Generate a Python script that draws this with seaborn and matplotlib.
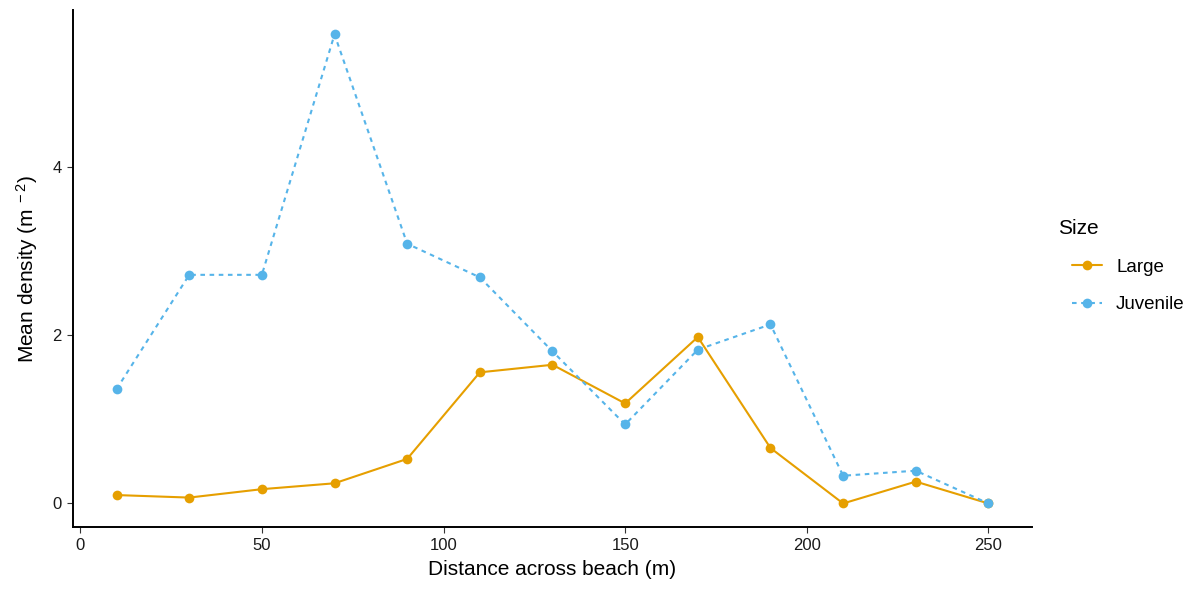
import matplotlib
matplotlib.use("Agg")
import matplotlib.pyplot as plt
from matplotlib.lines import Line2D
import seaborn as sns
import pandas as pd

distance = [10, 30, 50, 70, 90, 110, 130, 150, 170, 190, 210, 230, 250]
large = [0.10, 0.07, 0.17, 0.24, 0.53, 1.56, 1.65, 1.19, 1.98, 0.66, 0.0, 0.26, 0.0]
juvenile = [1.36, 2.72, 2.72, 5.58, 3.09, 2.69, 1.81, 0.94, 1.83, 2.13, 0.33, 0.39, 0.0]
sizes = ["Large", "Juvenile"]
colors = ["#E69F00", "#56B4E9"]
x_ticks = [0, 50, 100, 150, 200, 250]
y_ticks = [0, 2, 4]

df = pd.concat([
    pd.DataFrame({"Distance": distance, "Density": large, "Size": "Large"}),
    pd.DataFrame({"Distance": distance, "Density": juvenile, "Size": "Juvenile"}),
])

sns.set_theme(style="ticks")
plt.rcParams["font.family"] = ["Liberation Sans", "DejaVu Sans"]
plt.rcParams["mathtext.fontset"] = "custom"
plt.rcParams["mathtext.rm"] = "Liberation Sans"
plt.rcParams["mathtext.it"] = "Liberation Sans"
plt.rcParams["text.color"] = "black"
plt.rcParams["axes.labelcolor"] = "black"

fig = plt.figure(figsize=(11.92, 5.92), dpi=100)
ax = fig.add_axes([0.0612, 0.1098, 0.8046, 0.8732])

palette = dict(zip(sizes, colors))
dashes = {"Large": "", "Juvenile": (2.2, 2.2)}
sns.lineplot(data=df, x="Distance", y="Density", hue="Size", style="Size",
             hue_order=sizes, style_order=sizes, palette=palette, dashes=dashes,
             markers={"Large": "o", "Juvenile": "o"}, markersize=7,
             markeredgewidth=0, linewidth=1.5, ax=ax, legend=False)

ax.set_xlim(-2, 262)
ax.set_ylim(-0.28, 5.87)
ax.set_xticks(x_ticks)
ax.set_yticks(y_ticks)
ax.tick_params(axis="both", length=4, width=0.8, color="#333333",
               labelsize=12, labelcolor="#1a1a1a", pad=4)
for side in ("top", "right"):
    ax.spines[side].set_visible(False)
for side in ("left", "bottom"):
    ax.spines[side].set_linewidth(1.4)
    ax.spines[side].set_color("black")

ax.set_xlabel("Distance across beach (m)", fontsize=15, labelpad=5)
ax.set_ylabel("Mean density (m$^{\\ -2}$)", fontsize=15, labelpad=9)

# Legend: title placed on its own, keys indented beneath it
fig.text(1058 / 1192, 1 - 228 / 592, "Size", fontsize=15, ha="left", va="center")
handles = [
    Line2D([], [], color=colors[0], lw=1.5, marker="o", markersize=7, markeredgewidth=0),
    Line2D([], [], color=colors[1], lw=1.5, ls=(0, (2.2, 2.2)), marker="o",
           markersize=7, markeredgewidth=0),
]
fig.legend(handles, sizes, loc="center left",
           bbox_to_anchor=(1072 / 1192, 1 - 286 / 592), frameon=False,
           fontsize=13.5, handlelength=1.6, labelspacing=1.1,
           handletextpad=0.75, borderpad=0, borderaxespad=0)

fig.savefig("out.png", dpi=100)
